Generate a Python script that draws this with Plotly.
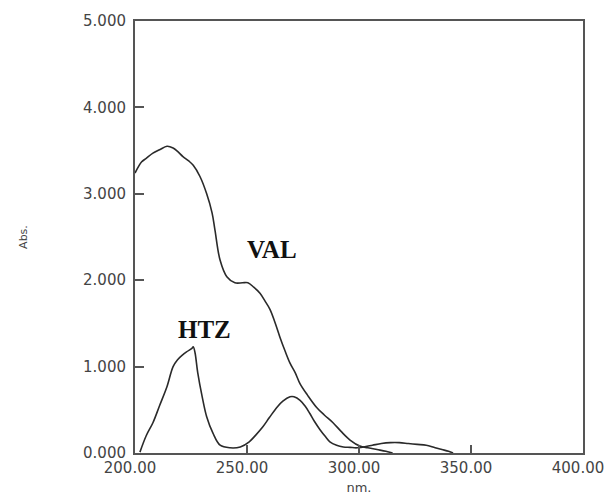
import plotly.graph_objects as go

# VAL spectrum (nm, Abs.)
val_nm = [200, 203, 205, 208, 211, 214.3, 217, 219, 221.4, 224, 226, 229, 232, 234.4, 235.7,
          238, 241, 244.6, 248, 250.4, 253, 255.8, 258, 260.3, 262.5, 264.7, 267, 269.2, 271.5,
          273.7, 277, 281, 284.5, 288.4, 292, 296, 300.4, 304, 308, 312, 315]
val_abs = [3.24, 3.37, 3.41, 3.47, 3.51, 3.55, 3.53, 3.49, 3.43, 3.38, 3.33, 3.20, 3.00, 2.78, 2.58,
           2.23, 2.04, 1.97, 1.97, 1.97, 1.92, 1.85, 1.76, 1.66, 1.51, 1.34, 1.18, 1.04, 0.93,
           0.80, 0.67, 0.53, 0.44, 0.35, 0.25, 0.15, 0.08, 0.06, 0.04, 0.02, 0.0]

# HTZ spectrum (nm, Abs.)
htz_nm = [202.2, 205, 208, 211, 214.3, 217, 219, 221, 223, 225.4, 226, 226.8, 228, 230, 232,
          234.8, 238, 242.4, 247, 251, 254, 257, 260, 263.4, 266, 269.2, 271, 273.7, 276, 278,
          280, 282.6, 285, 287, 290, 293, 296, 299, 302, 306, 310, 314, 318, 322, 326, 330,
          334, 337, 340, 342]
htz_abs = [0.01, 0.20, 0.35, 0.55, 0.77, 1.00, 1.08, 1.13, 1.17, 1.21, 1.23, 1.16, 0.93, 0.65, 0.42,
           0.23, 0.09, 0.06, 0.07, 0.13, 0.21, 0.30, 0.41, 0.53, 0.60, 0.65, 0.65, 0.61, 0.54, 0.46,
           0.37, 0.27, 0.19, 0.13, 0.09, 0.07, 0.065, 0.06, 0.07, 0.09, 0.11, 0.12, 0.12, 0.11, 0.10, 0.09,
           0.06, 0.04, 0.02, 0.0]

x_ticks = [200, 250, 300, 350, 400]
y_ticks = [0, 1, 2, 3, 4, 5]

line_style = dict(color="#2a2a2a", width=1.6)

fig = go.Figure()
fig.add_trace(go.Scatter(x=val_nm, y=val_abs, mode="lines", line=line_style,
                         line_shape="spline", name="VAL", showlegend=False))
fig.add_trace(go.Scatter(x=htz_nm, y=htz_abs, mode="lines", line=line_style,
                         line_shape="spline", name="HTZ", showlegend=False))

fig.add_annotation(x=261, y=2.35, text="<b>VAL</b>", showarrow=False,
                   font=dict(family="Liberation Serif", size=25, color="#111"))
fig.add_annotation(x=231, y=1.43, text="<b>HTZ</b>", showarrow=False,
                   font=dict(family="Liberation Serif", size=25, color="#111"))

axis_common = dict(showline=True, linecolor="#555", linewidth=2, mirror=True,
                   showgrid=False, zeroline=False, ticks="inside", tickcolor="#555",
                   tickwidth=1.5, automargin=False)

fig.update_layout(
    width=609, height=495,
    margin=dict(l=135, r=26, t=21, b=42),
    paper_bgcolor="white", plot_bgcolor="white",
    font=dict(family="DejaVu Sans", color="#444"),
    xaxis=dict(range=[200, 400], tickvals=x_ticks, tickformat=".2f", ticklen=8,
               tickfont=dict(size=15, color="#444"), ticklabelshift=-5,
               title=dict(text="nm.", font=dict(size=13, color="#444"), standoff=14),
               **axis_common),
    yaxis=dict(range=[0, 5], tickvals=y_ticks, tickformat=".3f", ticklen=9,
               tickfont=dict(size=15, color="#444"), ticklabelstandoff=4,
               title=dict(text="Abs.", font=dict(size=11, color="#444"), standoff=53),
               **axis_common),
)

fig.write_html("out.html",
               config={"displayModeBar": False},
               post_script="document.body.style.margin='0px';document.body.style.overflow='hidden';")
